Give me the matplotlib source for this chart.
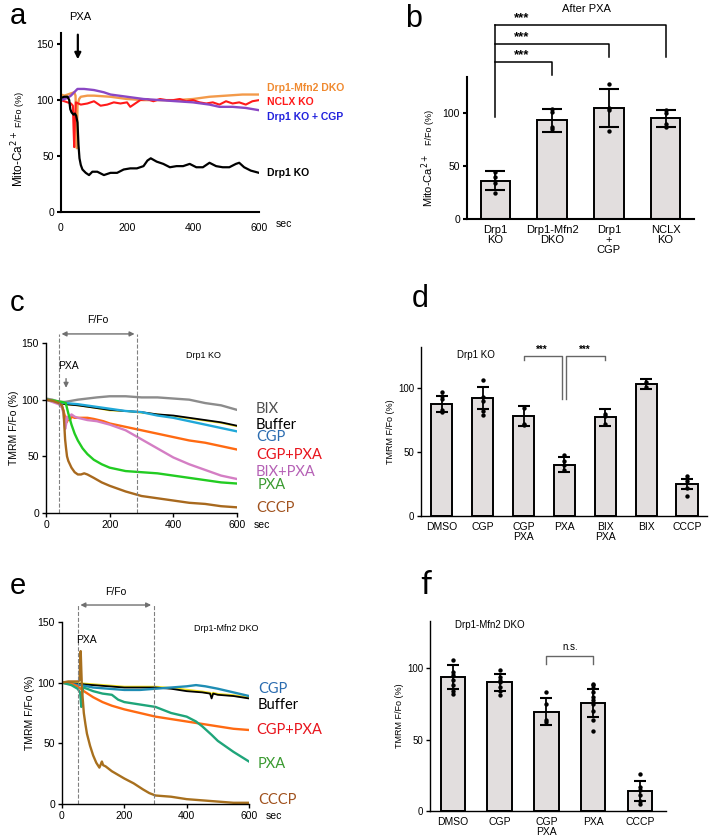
import matplotlib
matplotlib.use("Agg")
import matplotlib.pyplot as plt

W, H = 710, 839
plt.rcParams['font.family'] = ['Liberation Sans', 'DejaVu Sans']
LBL = ['Lato', 'DejaVu Sans']

# ---- panel a: mito-Ca2+ traces
a_t_dko = [0, 10, 20, 30, 40, 44, 46, 48, 50, 55, 60, 80, 100, 150, 200, 250, 300, 350, 400, 450, 500, 550, 600]
a_y_dko = [105, 104, 105, 106, 107, 104, 80, 57, 95, 101, 103, 104, 104, 103, 101, 100, 100, 100, 101, 103, 104, 105, 105]
a_t_nclx = [0, 10, 20, 30, 36, 38, 40, 42, 45, 60, 80, 100, 120, 140, 160, 180, 200, 210, 220, 240, 260, 280,
            300, 320, 340, 360, 380, 400, 420, 440, 460, 480, 500, 520, 540, 560, 580, 600]
a_y_nclx = [100, 99, 98, 97, 95, 75, 58, 80, 98, 96, 97, 99, 95, 96, 98, 97, 98, 94, 96, 100, 101, 99,
            101, 100, 100, 101, 99, 100, 98, 97, 98, 96, 99, 97, 98, 96, 99, 100]
a_t_cgp = [0, 20, 30, 40, 50, 70, 100, 130, 150, 200, 250, 300, 350, 400, 450, 480, 520, 560, 600]
a_y_cgp = [100, 102, 104, 107, 110, 110, 109, 107, 105, 103, 101, 100, 99, 98, 96, 94, 94, 93, 91]
a_t_ko = [0, 10, 20, 25, 28, 32, 38, 42, 46, 50, 53, 56, 60, 65, 75, 85, 95, 110, 130, 150, 170, 190, 210,
          230, 250, 262, 272, 290, 310, 330, 350, 370, 390, 410, 430, 450, 470, 490, 510, 530, 540, 555, 575, 600]
a_y_ko = [102, 103, 103, 100, 92, 89, 87, 88, 86, 80, 60, 48, 42, 38, 35, 33, 36, 36, 33, 35, 35, 38, 39,
          39, 41, 46, 48, 45, 43, 40, 41, 41, 43, 40, 40, 44, 41, 40, 40, 43, 44, 40, 37, 35]

# ---- panel b: after PXA
b_labels = ['Drp1\nKO', 'Drp1-Mfn2\nDKO', 'Drp1\n+\nCGP', 'NCLX\nKO']
b_mean = [36, 93, 105, 95]
b_err = [9, 11, 18, 8]
b_dots = [[44, 40, 34, 25], [104, 101, 87, 85], [127, 105, 103, 83], [103, 100, 90, 87]]

# ---- panel c: TMRM, Drp1 KO
c_t_bix = [0, 20, 40, 60, 80, 100, 130, 160, 200, 250, 300, 350, 400, 450, 500, 550, 600]
c_y_bix = [101, 100, 98, 98, 99, 100, 101, 102, 103, 103, 102, 102, 101, 100, 97, 95, 91]
c_t_buf = [0, 30, 60, 100, 150, 200, 250, 300, 350, 400, 450, 500, 550, 600]
c_y_buf = [100, 98, 96, 95, 93, 91, 90, 89, 87, 86, 84, 82, 80, 77]
c_y_yel = [100, 98, 96, 95, 93, 90.5, 90, 88.5, 87, 85.5, 83.5, 81.5, 79.5, 76.5]
c_t_cgp = [0, 30, 60, 100, 150, 200, 250, 300, 350, 400, 450, 500, 550, 600]
c_y_cgp = [100, 98, 97, 96, 94, 92, 90, 89, 86, 84, 81, 78, 75, 72]
c_t_cgppxa = [0, 20, 40, 50, 55, 60, 65, 70, 75, 80, 90, 100, 130, 150, 180, 200, 250, 300, 350, 400, 450, 500, 550, 600]
c_y_cgppxa = [100, 99, 97, 94, 90, 85, 80, 83, 82, 85, 84, 84, 84, 83, 81, 79, 76, 73, 70, 67, 64, 62, 59, 56]
c_t_bixpxa = [0, 20, 40, 50, 55, 58, 60, 63, 66, 70, 80, 90, 100, 130, 160, 200, 250, 300, 350, 400, 450, 500, 550, 600]
c_y_bixpxa = [100, 98, 96, 93, 88, 80, 74, 78, 85, 83, 87, 85, 84, 82, 81, 78, 73, 65, 57, 49, 43, 38, 33, 30]
c_t_pxa = [0, 30, 50, 62, 70, 80, 90, 100, 115, 130, 150, 175, 200, 250, 300, 350, 400, 450, 500, 550, 600]
c_y_pxa = [100, 99, 98, 97, 88, 78, 70, 64, 57, 52, 47, 43, 40, 37, 36, 35, 33, 31, 29, 27, 26]
c_t_cccp = [0, 20, 40, 50, 55, 58, 60, 63, 66, 70, 80, 90, 100, 110, 120, 130, 150, 175, 200, 250, 300, 350,
            400, 450, 500, 550, 600]
c_y_cccp = [100, 99, 97, 95, 90, 75, 65, 57, 50, 46, 40, 36, 34, 34, 35, 34, 31, 27, 24, 19, 15, 13,
            11, 9, 8, 6, 5]

# ---- panel d
d_labels = ['DMSO', 'CGP', 'CGP\nPXA', 'PXA', 'BIX\nPXA', 'BIX', 'CCCP']
d_mean = [87.5, 92, 78, 40, 77, 103, 25]
d_err = [6.5, 8.5, 8, 6, 6.5, 4, 4]
d_dots = [[97, 94, 91, 83, 81], [106, 93, 90, 82, 79], [84, 72, 71], [48, 43, 40, 36],
          [80, 78, 72], [105, 101], [31, 27, 22, 16]]

# ---- panel e: TMRM, Drp1-Mfn2 DKO
e_t_cgp = [0, 30, 60, 100, 150, 200, 250, 300, 350, 400, 430, 460, 500, 550, 600]
e_y_cgp = [100, 99, 98, 96, 95, 94, 94, 95, 96, 97, 98, 97, 95, 92, 89]
e_t_buf = [0, 50, 100, 150, 200, 250, 300, 350, 400, 450, 475, 480, 485, 500, 550, 600]
e_y_buf = [100, 99, 98, 97, 96, 96, 96, 95, 93, 92, 91, 87, 91, 90, 89, 87]
e_y_yel = [100, 99.5, 98.5, 97.5, 96.5, 96.5, 96.5, 95.5, 94, 92.5, 91.5, 90, 91.5, 90.5, 89.5, 87.5]
e_t_cgppxa = [0, 30, 50, 70, 100, 130, 160, 200, 250, 300, 350, 400, 450, 500, 550, 600]
e_y_cgppxa = [100, 99, 97, 93, 88, 84, 81, 78, 75, 72, 70, 68, 66, 64, 62, 61]
e_t_pxa = [0, 30, 50, 58, 62, 64, 68, 80, 100, 130, 160, 180, 200, 250, 300, 350, 400, 430, 450, 480, 500, 550, 600]
e_y_pxa = [100, 98, 95, 92, 80, 90, 96, 95, 93, 91, 90, 86, 84, 82, 80, 75, 72, 68, 64, 57, 52, 43, 35]
e_t_cccp = [0, 20, 40, 52, 56, 58, 60, 62, 64, 67, 70, 75, 80, 90, 100, 110, 120, 125, 128, 132, 140, 160,
            180, 200, 230, 260, 280, 300, 350, 400, 450, 500, 550, 600]
e_y_cccp = [100, 101, 101, 101, 102, 115, 126, 110, 95, 85, 75, 66, 58, 48, 40, 34, 30, 33, 35, 32, 31, 27,
            24, 21, 17, 12, 9, 7, 6, 4, 3, 2, 1, 1]

# ---- panel f
f_labels = ['DMSO', 'CGP', 'CGP\nPXA', 'PXA', 'CCCP']
f_mean = [94, 90, 69.5, 75.5, 14]
f_err = [8.5, 6, 9.5, 10, 7]
f_dots = [[106, 97, 95, 92, 88, 84, 82], [99, 94, 92, 90, 87, 84, 81], [83, 75, 64, 62],
          [89, 88, 86, 83, 80, 78, 75, 70, 64, 56], [26, 17, 15, 11, 7, 5]]


fig = plt.figure(figsize=(W / 100, H / 100), dpi=100)


def ax_px(left, right, top, bottom):
    return fig.add_axes([left / W, 1 - bottom / H, (right - left) / W, (bottom - top) / H])


def ftext(x, y, s, **kw):
    fig.text(x / W, 1 - y / H, s, **kw)


def style(ax, lw=1.0, fs=7):
    ax.spines['top'].set_visible(False)
    ax.spines['right'].set_visible(False)
    ax.spines['left'].set_linewidth(lw)
    ax.spines['bottom'].set_linewidth(lw)
    ax.tick_params(direction='out', length=3, width=lw, labelsize=fs, pad=2)
    ax.patch.set_alpha(0)


def sec(ax, fs=7):
    ax.annotate('sec', xy=(600, 0), xycoords='data', xytext=(12, -5), textcoords='offset points',
                fontsize=fs, va='top', ha='left', annotation_clip=False)


def bars(ax, labels, mean, err, dots, cap, fs=7):
    x = list(range(len(labels)))
    ax.bar(x, mean, width=0.52, color='#e2dede', edgecolor='black', linewidth=1.4, zorder=2)
    ax.errorbar(x, mean, yerr=err, fmt='none', ecolor='black', elinewidth=1.3, capsize=cap,
                capthick=1.5, zorder=3)
    for i, ds in enumerate(dots):
        ax.scatter([i] * len(ds), ds, s=10, color='black', zorder=4, linewidths=0)
    ax.set_xticks(x)
    ax.set_xticklabels(labels, fontsize=fs, linespacing=1.0)
    ax.tick_params(axis='x', length=0, pad=4)


# ================= a
ax = ax_px(61, 259, 33, 212)
style(ax, lw=1.5, fs=7.5)
ax.plot(a_t_dko, a_y_dko, color='#f39a4a', lw=1.7)
ax.plot(a_t_nclx, a_y_nclx, color='#ff1a1a', lw=1.5)
ax.plot(a_t_cgp, a_y_cgp, color='#8a47c4', lw=1.7)
ax.plot(a_t_ko, a_y_ko, color='black', lw=1.6)
ax.set_xlim(0, 600)
ax.set_ylim(0, 160)
ax.set_xticks([0, 200, 400, 600])
ax.set_yticks([0, 50, 100, 150])
ax.tick_params(axis='x', length=0, pad=8)
sec(ax, 7.5)
ax.text(58, 174, 'PXA', fontsize=8, ha='center', va='center', clip_on=False)
ax.annotate('', xy=(51, 134), xytext=(51, 161), annotation_clip=False,
            arrowprops=dict(arrowstyle='-|>', color='black', lw=1.6, mutation_scale=9))
for txt, y, c in [('Drp1-Mfn2 DKO', 111, '#f08a30'), ('NCLX KO', 98.5, '#ff1a1a'),
                  ('Drp1 KO + CGP', 85, '#2222dd'), ('Drp1 KO', 35, 'black')]:
    ax.text(625, y, txt, color=c, fontsize=7.5, fontweight='bold', va='center', clip_on=False)
ftext(18, 187, 'Mito-Ca$^{2+}$', rotation=90, fontsize=8.5, ha='center', va='bottom')
ftext(20, 127, 'F/Fo (%)', rotation=90, fontsize=6.5, ha='center', va='bottom')
ftext(10, 24, 'a', fontsize=21)

# ================= b
ax = ax_px(467, 694, 7, 219)
style(ax, lw=1.5, fs=7.5)
bars(ax, b_labels, b_mean, b_err, b_dots, cap=7, fs=8)
ax.set_xlim(-0.5, 3.5)
ax.set_ylim(0, 200)
ax.set_yticks([0, 50, 100])
ax.spines['left'].set_bounds(0, 134)
bk = dict(color='black', lw=1.1, clip_on=False)
ax.plot([0, 0], [96, 183], **bk)
ax.plot([0, 3, 3], [183, 183, 153], **bk)
ax.plot([0, 2, 2], [165, 165, 153], **bk)
ax.plot([0, 1, 1], [148, 148, 136], **bk)
for y in [183, 165, 148]:
    ax.text(0.47, y + 0.5, '***', fontsize=9.5, fontweight='bold', ha='center', va='bottom')
ax.text(1.6, 198, 'After PXA', fontsize=8, ha='center', va='center', clip_on=False)
ftext(428, 207, 'Mito-Ca$^{2+}$', rotation=90, fontsize=8, ha='center', va='bottom')
ftext(430, 145, 'F/Fo (%)', rotation=90, fontsize=6.5, ha='center', va='bottom')
ftext(405, 27, 'b', fontsize=22)

# ================= c
ax = ax_px(46, 237, 343, 513)
style(ax, lw=1.0, fs=7.5)
ax.plot(c_t_bix, c_y_bix, color='#8c8c8c', lw=1.7)
ax.plot(c_t_buf, c_y_yel, color='#f0e020', lw=1.3)
ax.plot(c_t_buf, c_y_buf, color='black', lw=1.3)
ax.plot(c_t_cgp, c_y_cgp, color='#20a8d8', lw=1.7)
ax.plot(c_t_cgppxa, c_y_cgppxa, color='#ff6a12', lw=1.7)
ax.plot(c_t_bixpxa, c_y_bixpxa, color='#d47ec4', lw=1.7)
ax.plot(c_t_pxa, c_y_pxa, color='#22cc22', lw=1.7)
ax.plot(c_t_cccp, c_y_cccp, color='#a8691e', lw=1.7)
ax.set_xlim(0, 600)
ax.set_ylim(0, 150)
ax.set_xticks([0, 200, 400, 600])
ax.set_yticks([0, 50, 100, 150])
sec(ax, 7.5)
ax.set_ylabel('TMRM F/Fo (%)', fontsize=7.5, labelpad=2)
for xv in [40, 287]:
    ax.plot([xv, xv], [0, 158], color='#808080', ls='--', lw=0.8, clip_on=False)
ax.annotate('', xy=(40, 158), xytext=(287, 158), annotation_clip=False,
            arrowprops=dict(arrowstyle='<|-|>', color='#707070', lw=1.0, mutation_scale=7))
ax.text(163, 166, 'F/Fo', fontsize=7.5, ha='center', va='bottom', clip_on=False)
ax.text(71, 130, 'PXA', fontsize=7.5, ha='center', va='center')
ax.annotate('', xy=(63, 108), xytext=(63, 121),
            arrowprops=dict(arrowstyle='-|>', color='#707070', lw=1.0, mutation_scale=7))
ax.text(496, 139, 'Drp1 KO', fontsize=6.5, ha='center', va='center')
for txt, y, c in [('BIX', 92, '#4d4d4d'), ('Buffer', 78, 'black'), ('CGP', 67, '#2b6cb0'),
                  ('CGP+PXA', 51, '#e8141c'), ('BIX+PXA', 36, '#b560b5'), ('PXA', 24.5, '#3a9a30'),
                  ('CCCP', 4.5, '#a0521e')]:
    ax.text(660 if txt != 'PXA' else 665, y, txt, color=c, fontsize=10.5, family=LBL,
            va='center', clip_on=False)
ftext(10, 311, 'c', fontsize=21)

# ================= d
ax = ax_px(421, 707, 347, 516)
style(ax, lw=1.0, fs=7)
bars(ax, d_labels, d_mean, d_err, d_dots, cap=4.5, fs=7.5)
ax.set_xlim(-0.51, 6.49)
ax.set_ylim(0, 132)
ax.set_yticks([0, 50, 100])
ax.set_ylabel('TMRM F/Fo (%)', fontsize=6.5, labelpad=2)
gk = dict(color='#666666', lw=1.0)
ax.plot([2, 2, 2.95, 2.95], [122, 125, 125, 91], **gk)
ax.plot([4, 4, 3.05, 3.05], [122, 125, 125, 91], **gk)
ax.text(2.45, 126, '***', fontsize=7, fontweight='bold', ha='center', va='bottom')
ax.text(3.5, 126, '***', fontsize=7, fontweight='bold', ha='center', va='bottom')
ax.text(0.37, 126, 'Drp1 KO', fontsize=7, ha='left', va='center')
ftext(412, 307, 'd', fontsize=22)

# ================= e
ax = ax_px(62, 249, 622, 804)
style(ax, lw=1.0, fs=7.5)
ax.plot(e_t_buf, e_y_yel, color='#f0e020', lw=1.7)
ax.plot(e_t_buf, e_y_buf, color='black', lw=1.3)
ax.plot(e_t_cgp, e_y_cgp, color='#1e8db4', lw=1.7)
ax.plot(e_t_cgppxa, e_y_cgppxa, color='#ff6a12', lw=1.7)
ax.plot(e_t_pxa, e_y_pxa, color='#1fa57a', lw=1.7)
ax.plot(e_t_cccp, e_y_cccp, color='#a8701e', lw=1.7)
ax.set_xlim(0, 600)
ax.set_ylim(0, 150)
ax.set_xticks([0, 200, 400, 600])
ax.set_yticks([0, 50, 100, 150])
sec(ax, 7.5)
ax.set_ylabel('TMRM F/Fo (%)', fontsize=7.5, labelpad=2)
for xv in [50, 295]:
    ax.plot([xv, xv], [0, 164], color='#808080', ls='--', lw=0.8, clip_on=False)
ax.annotate('', xy=(50, 164), xytext=(295, 164), annotation_clip=False,
            arrowprops=dict(arrowstyle='<|-|>', color='#707070', lw=1.0, mutation_scale=7))
ax.text(172, 171, 'F/Fo', fontsize=7.5, ha='center', va='bottom', clip_on=False)
ax.text(78, 135, 'PXA', fontsize=7.5, ha='center', va='center')
ax.text(527, 145, 'Drp1-Mfn2 DKO', fontsize=6.5, ha='center', va='center')
for txt, y, c in [('CGP', 95, '#2b6cb0'), ('Buffer', 82, 'black'), ('CGP+PXA', 61, '#e8141c'),
                  ('PXA', 33, '#3a9a30'), ('CCCP', 3, '#a0521e')]:
    ax.text(629 if txt != 'CGP+PXA' else 622, y, txt, color=c, fontsize=10.5, family=LBL,
            va='center', clip_on=False)
ftext(10, 594, 'e', fontsize=21)

# ================= f
ax = ax_px(430, 666, 621, 811)
style(ax, lw=1.0, fs=7)
bars(ax, f_labels, f_mean, f_err, f_dots, cap=4.5, fs=7.5)
ax.set_xlim(-0.49, 4.56)
ax.set_ylim(0, 133)
ax.set_yticks([0, 50, 100])
ax.set_ylabel('TMRM F/Fo (%)', fontsize=6.5, labelpad=2)
ax.plot([2, 2, 3, 3], [103, 108.7, 108.7, 103], color='#666666', lw=1.0)
ax.text(2.5, 111, 'n.s.', fontsize=7, ha='center', va='bottom')
ax.text(0.8, 130, 'Drp1-Mfn2 DKO', fontsize=7, ha='center', va='center')
ftext(420, 594, 'f', fontsize=23, family=LBL)

fig.savefig('out.png', dpi=100)
